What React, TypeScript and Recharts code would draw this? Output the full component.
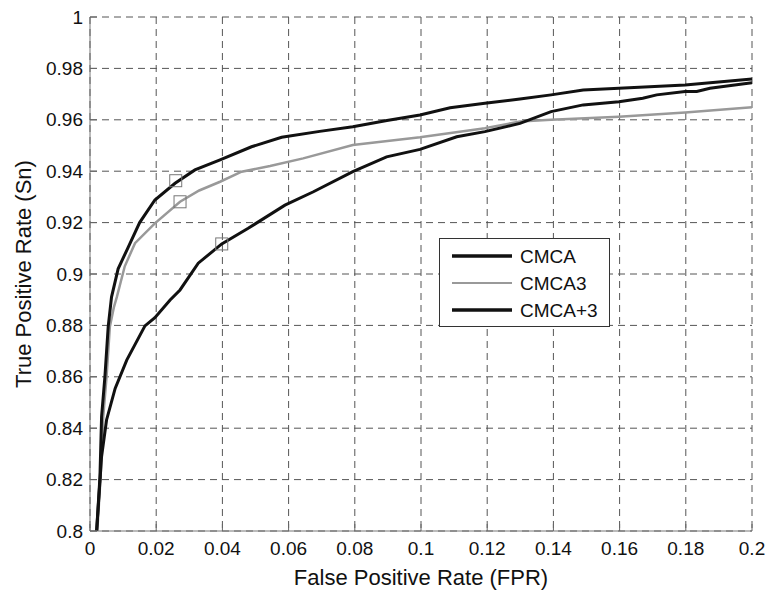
import React from "react";
import {
    ComposedChart,
    Line,
    Scatter,
    XAxis,
    YAxis,
    CartesianGrid,
    Legend,
    Label,
} from "recharts";

const FONT = "Arial, 'Liberation Sans', Helvetica, sans-serif";

// tick positions
const xTicks = [0, 0.02, 0.04, 0.06, 0.08, 0.1, 0.12, 0.14, 0.16, 0.18, 0.2];
const yTicks = [0.8, 0.82, 0.84, 0.86, 0.88, 0.9, 0.92, 0.94, 0.96, 0.98, 1];
const xTickLabels = ["0", "0.02", "0.04", "0.06", "0.08", "0.1", "0.12", "0.14", "0.16", "0.18", "0.2"];
const yTickLabels = ["0.8", "0.82", "0.84", "0.86", "0.88", "0.9", "0.92", "0.94", "0.96", "0.98", "1"];

// CMCA
const cmcaX = [0.002, 0.003, 0.0035, 0.0045, 0.0055, 0.0065, 0.0085, 0.0116, 0.015, 0.0196, 0.0257, 0.0317, 0.0393, 0.0488, 0.0579, 0.0694, 0.0794, 0.0897, 0.0997, 0.1088, 0.1193, 0.1299, 0.1393, 0.149, 0.1598, 0.1798, 0.2];
const cmcaY = [0.8, 0.821, 0.8445, 0.86, 0.8795, 0.891, 0.902, 0.9106, 0.92, 0.9288, 0.9353, 0.9405, 0.9444, 0.9495, 0.9532, 0.9555, 0.9573, 0.9597, 0.9619, 0.9647, 0.9664, 0.9681, 0.9697, 0.9716, 0.9723, 0.9735, 0.9759];

// CMCA3
const cmca3X = [0.0022, 0.0032, 0.004, 0.005, 0.006, 0.0072, 0.0081, 0.0105, 0.0136, 0.0196, 0.0272, 0.033, 0.0393, 0.0458, 0.0544, 0.0644, 0.0794, 0.0997, 0.1193, 0.1299, 0.1393, 0.1598, 0.1798, 0.2];
const cmca3Y = [0.8, 0.821, 0.8445, 0.86, 0.8795, 0.887, 0.891, 0.903, 0.912, 0.9197, 0.9281, 0.9325, 0.9359, 0.9398, 0.942, 0.945, 0.9502, 0.9532, 0.9567, 0.9593, 0.96, 0.9612, 0.9628, 0.9649];

// CMCA+3
const cmcap3X = [0.002, 0.0035, 0.005, 0.0076, 0.0111, 0.0166, 0.0196, 0.0242, 0.0272, 0.0327, 0.0398, 0.0478, 0.0589, 0.0675, 0.0794, 0.0896, 0.0997, 0.1108, 0.1193, 0.1299, 0.1393, 0.149, 0.1598, 0.167, 0.1712, 0.1798, 0.1833, 0.1873, 0.2];
const cmcap3Y = [0.8, 0.829, 0.8432, 0.8555, 0.8665, 0.8798, 0.883, 0.8899, 0.8938, 0.9042, 0.9117, 0.9178, 0.9268, 0.932, 0.9398, 0.9456, 0.9485, 0.9534, 0.9554, 0.9586, 0.9632, 0.9658, 0.967, 0.9684, 0.9697, 0.971, 0.971, 0.9723, 0.9744];

// square markers on each curve
const markerX = [0.0259, 0.0272, 0.0398];
const markerY = [0.9363, 0.9281, 0.9117];

const toPoints = (xs: number[], ys: number[]) => xs.map((x, i) => ({ x, y: ys[i] }));

const PLOT_LEFT = 90;
const PLOT_BOTTOM = 531;

function YTick(props: any) {
    const { y, index } = props;
    return (
        <g>
            <line x1={PLOT_LEFT} x2={PLOT_LEFT + 7} y1={y} y2={y} stroke="#666" />
            <text x={PLOT_LEFT - 7} y={y} dy="0.35em" textAnchor="end" fontSize={19} fill="#111" fontFamily={FONT}>
                {yTickLabels[index]}
            </text>
        </g>
    );
}

function XTick(props: any) {
    const { x, index } = props;
    return (
        <g>
            <line x1={x} x2={x} y1={PLOT_BOTTOM} y2={PLOT_BOTTOM - 7} stroke="#666" />
            <text x={x} y={PLOT_BOTTOM + 24} textAnchor="middle" fontSize={19} fill="#111" fontFamily={FONT}>
                {xTickLabels[index]}
            </text>
        </g>
    );
}

function Square(props: any) {
    const { cx, cy } = props;
    return <rect x={cx - 6} y={cy - 6} width={12} height={12} fill="none" stroke="#777" strokeWidth={1} />;
}

function LegendBox(props: any) {
    const items = (props.payload || []).filter((p: any) => p.type !== "none");
    const order = ["CMCA", "CMCA3", "CMCA+3"];
    const sorted = order.map((n) => items.find((p: any) => p.value === n)).filter(Boolean);
    return (
        <div style={{ width: 171, height: 89, boxSizing: "border-box", border: "1px solid #333", background: "#fff" }}>
            <svg width={169} height={87}>
                {sorted.map((p: any, i: number) => {
                    const cy = 17 + i * 27;
                    const gray = p.value === "CMCA3";
                    return (
                        <g key={p.value}>
                            <line x1={12} x2={72} y1={cy} y2={cy} stroke={p.color} strokeWidth={gray ? 2 : 3.5} />
                            <text x={80} y={cy} dy="0.35em" fontSize={19} fill="#111" fontFamily={FONT}>
                                {p.value}
                            </text>
                        </g>
                    );
                })}
            </svg>
        </div>
    );
}

export default function App() {
    return (
        <div style={{ position: "absolute", left: 0, top: 0, background: "#fff" }}>
            <ComposedChart width={771} height={594} margin={{ top: 17, right: 19, bottom: 0, left: 0 }}>
                <CartesianGrid stroke="#555" strokeDasharray="7 5" strokeWidth={1} />
                <XAxis
                    dataKey="x"
                    type="number"
                    domain={[0, 0.2]}
                    ticks={xTicks}
                    interval={0}
                    height={63}
                    allowDataOverflow
                    stroke="#777"
                    tickLine={false}
                    tick={<XTick />}
                >
                    <Label
                        content={() => (
                            <text x={421} y={585} textAnchor="middle" fontSize={22} fill="#111" fontFamily={FONT}>
                                False Positive Rate (FPR)
                            </text>
                        )}
                    />
                </XAxis>
                <YAxis
                    type="number"
                    domain={[0.8, 1]}
                    ticks={yTicks}
                    interval={0}
                    width={90}
                    allowDataOverflow
                    stroke="#777"
                    tickLine={false}
                    tick={<YTick />}
                >
                    <Label
                        content={() => (
                            <text transform="translate(31,274) rotate(-90)" textAnchor="middle" fontSize={22} fill="#111" fontFamily={FONT}>
                                True Positive Rate (Sn)
                            </text>
                        )}
                    />
                </YAxis>
                <Line
                    name="CMCA3"
                    data={toPoints(cmca3X, cmca3Y)}
                    dataKey="y"
                    type="linear"
                    stroke="#999"
                    strokeWidth={2.5}
                    dot={false}
                    activeDot={false}
                    isAnimationActive={false}
                />
                <Line
                    name="CMCA+3"
                    data={toPoints(cmcap3X, cmcap3Y)}
                    dataKey="y"
                    type="linear"
                    stroke="#111"
                    strokeWidth={3}
                    dot={false}
                    activeDot={false}
                    isAnimationActive={false}
                />
                <Line
                    name="CMCA"
                    data={toPoints(cmcaX, cmcaY)}
                    dataKey="y"
                    type="linear"
                    stroke="#111"
                    strokeWidth={3}
                    dot={false}
                    activeDot={false}
                    isAnimationActive={false}
                />
                <Scatter
                    name="markers"
                    legendType="none"
                    data={toPoints(markerX, markerY)}
                    dataKey="y"
                    shape={<Square />}
                    isAnimationActive={false}
                />
                <Legend
                    layout="horizontal"
                    verticalAlign="middle"
                    align="center"
                    content={<LegendBox />}
                    wrapperStyle={{ position: "absolute", left: 439, top: 238, width: 171, height: 89 }}
                />
            </ComposedChart>
        </div>
    );
}
